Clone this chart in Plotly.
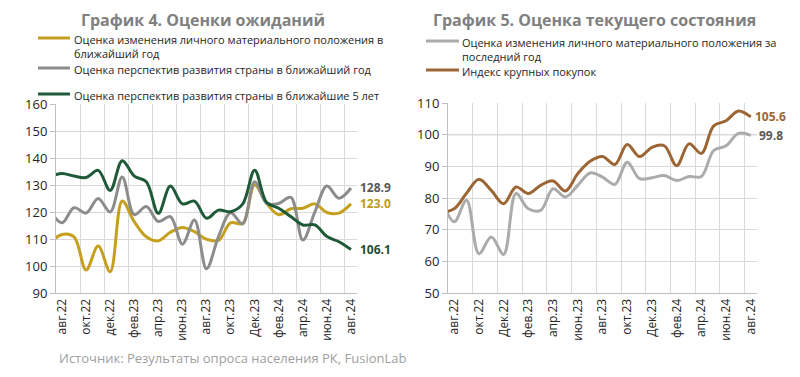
import plotly.graph_objects as go

# ---------------- data ----------------
# first entry (июл.22) is only partly visible: the lines enter the plot from the left edge
months = ["июл.22", "авг.22", "сен.22", "окт.22", "ноя.22", "дек.22", "янв.23", "фев.23",
          "мар.23", "апр.23", "май.23", "июн.23", "июл.23", "авг.23", "сен.23", "окт.23",
          "ноя.23", "дек.23", "янв.24", "фев.24", "мар.24", "апр.24", "май.24", "июн.24",
          "июл.24", "авг.24"]

tick_labels_left = ["авг.22", "окт.22", "дек.22", "фев.23", "апр.23", "июн.23", "авг.23",
                    "окт.23", "Дек.23", "фев.24", "апр.24", "июн.24", "авг.24"]
tick_labels_right = ["авг.22", "окт.22", "Дек.22", "фев.23", "апр.23", "июн.23", "авг.23",
                     "окт.23", "Дек.23", "фев.24", "апр.24", "июн.24", "авг.24"]

# График 4
personal_next_year = [108.5, 111.7, 110.8, 98.5, 107.4, 97.9, 124.1, 116.4, 110.8, 109.3,
                      112.5, 114.3, 112.7, 109.9, 109.5, 116.0, 115.8, 130.0, 123.2, 119.0,
                      121.2, 121.4, 123.0, 119.8, 119.6, 123.0]
country_next_year = [120.5, 116.0, 121.6, 119.6, 125.0, 120.0, 133.0, 119.0, 122.0, 116.5,
                     118.3, 108.1, 117.0, 99.0, 110.9, 119.7, 115.6, 131.2, 123.2, 123.2,
                     125.4, 109.6, 120.0, 129.6, 125.1, 128.9]
country_next_5_years = [133.0, 134.3, 133.3, 132.8, 135.4, 128.0, 139.0, 133.3, 131.2, 119.5,
                        129.6, 123.0, 124.0, 117.7, 120.7, 120.1, 122.9, 135.5, 123.5, 121.4,
                        118.3, 115.2, 115.2, 110.9, 109.0, 106.1]

# График 5
personal_past_year = [79.5, 72.5, 79.3, 62.4, 67.7, 62.2, 81.4, 76.6, 76.1, 82.9,
                      80.3, 84.0, 87.9, 86.6, 84.3, 91.3, 86.1, 86.4, 87.1, 85.5,
                      86.8, 86.8, 95.0, 96.5, 100.4, 99.8]
big_purchases_index = [75.5, 76.6, 81.5, 85.9, 82.4, 78.2, 83.5, 81.4, 84.0, 85.4,
                       82.2, 87.7, 91.6, 93.1, 90.6, 96.9, 93.1, 96.0, 96.5, 90.2,
                       97.1, 94.1, 102.8, 104.4, 107.5, 105.6]
base_level_right = 100

names_left = ["Оценка изменения личного материального положения в<br>ближайший год",
              "Оценка перспектив развития страны в ближайший год",
              "Оценка перспектив развития страны в ближайшие 5 лет"]
names_right = ["Оценка изменения личного материального положения за<br>последний год",
               "Индекс крупных покупок"]

# ---------------- styling ----------------
W, H = 800, 377
FONT = "Open Sans"
GOLD = "#C5A01E"
GRAY_L = "#8C8C8C"
GREEN = "#1F5A38"
GRAY_R = "#ABABAB"
BROWN = "#9C6634"
GRID = "#D9D9D9"
AXIS = "#BFBFBF"


def px(x):
    return x / W


def py(y):
    return 1 - y / H


x_idx = [i - 1 for i in range(len(months))]   # авг.22 -> 0
last = x_idx[-1]
tickvals = x_idx[1::2]
boundaries = [v - 0.5 for v in tickvals]

fig = go.Figure()

left_series = [(personal_next_year, GOLD), (country_next_year, GRAY_L), (country_next_5_years, GREEN)]
for (vals, col), name in zip(left_series, names_left):
    fig.add_trace(go.Scatter(x=x_idx, y=vals, mode="lines", name=name.replace("<br>", " "),
                             line=dict(color=col, width=3, shape="spline", smoothing=1),
                             xaxis="x", yaxis="y", hoverinfo="skip"))

right_series = [(personal_past_year, GRAY_R), (big_purchases_index, BROWN)]
for (vals, col), name in zip(right_series, names_right):
    fig.add_trace(go.Scatter(x=x_idx, y=vals, mode="lines", name=name.replace("<br>", " "),
                             line=dict(color=col, width=3, shape="spline", smoothing=1),
                             xaxis="x2", yaxis="y2", hoverinfo="skip"))

xcommon = dict(range=[-0.5, last + 0.5], tickmode="array", tickvals=tickvals, tickangle=-90,
               showgrid=False, showline=True, linecolor=AXIS, linewidth=1, ticks="",
               zeroline=False, automargin=False,
               tickfont=dict(size=12, color="#262626", family=FONT),
               minor=dict(tickmode="array", tickvals=boundaries, showgrid=True,
                          gridcolor=GRID, gridwidth=1, ticks=""))
ycommon = dict(dtick=10, showgrid=True, gridcolor=GRID, gridwidth=1, showline=True,
               linecolor=AXIS, ticks="outside", ticklen=5, tickcolor=AXIS, zeroline=False,
               automargin=False, tickfont=dict(size=13, color="#262626", family=FONT))

fig.update_layout(
    template="none",
    width=W, height=H, autosize=False, margin=dict(l=0, r=0, t=0, b=0, pad=0),
    paper_bgcolor="white", plot_bgcolor="white", showlegend=False,
    font=dict(family=FONT, color="#262626"),
    xaxis=dict(xcommon, domain=[px(56), px(357)], ticktext=tick_labels_left, anchor="y"),
    yaxis=dict(ycommon, domain=[py(293), py(104)], range=[90, 160], anchor="x"),
    xaxis2=dict(xcommon, domain=[px(448), px(757)], ticktext=tick_labels_right, anchor="y2"),
    yaxis2=dict(ycommon, domain=[py(293), py(103)], range=[50, 110], anchor="x2"),
)

ann = []
# titles
ann.append(dict(text="<b>График 4. Оценки ожиданий</b>", x=px(203), y=py(20), xref="paper",
                yref="paper", xanchor="center", yanchor="middle", showarrow=False,
                font=dict(size=16, color="#808080", family=FONT)))
ann.append(dict(text="<b>График 5. Оценка текущего состояния</b>", x=px(594), y=py(20),
                xref="paper", yref="paper", xanchor="center", yanchor="middle", showarrow=False,
                font=dict(size=16, color="#808080", family=FONT)))

# base-100 reference line on the right chart (darker than gridlines)
shapes = [dict(type="line", xref="x2 domain", yref="y2", x0=0, x1=1,
               y0=base_level_right, y1=base_level_right, layer="below",
               line=dict(color="#8C8C8C", width=1))]

# legends (line samples + labels)
legend_left = [(38, names_left[0], GOLD), (68, names_left[1], GRAY_L), (94, names_left[2], GREEN)]
for yy, txt, col in legend_left:
    shapes.append(dict(type="line", xref="paper", yref="paper", x0=px(38), x1=px(70),
                       y0=py(yy), y1=py(yy), line=dict(color=col, width=3)))
    ann.append(dict(text=txt, x=px(72), y=py(yy - 8), xref="paper", yref="paper",
                    xanchor="left", yanchor="top", align="left", showarrow=False,
                    font=dict(size=11, color="#262626", family=FONT)))
legend_right = [(41, names_right[0], GRAY_R), (70, names_right[1], BROWN)]
for yy, txt, col in legend_right:
    shapes.append(dict(type="line", xref="paper", yref="paper", x0=px(426), x1=px(459),
                       y0=py(yy), y1=py(yy), line=dict(color=col, width=3)))
    ann.append(dict(text=txt, x=px(460), y=py(yy - 8), xref="paper", yref="paper",
                    xanchor="left", yanchor="top", align="left", showarrow=False,
                    font=dict(size=11, color="#262626", family=FONT)))

# end-of-line value labels
end_labels = [("x", "y", country_next_year, "#595959", 8),
              ("x", "y", personal_next_year, "#C09A1A", 8),
              ("x", "y", country_next_5_years, "#1F4E33", 8),
              ("x2", "y2", big_purchases_index, "#9C6634", 3),
              ("x2", "y2", personal_past_year, "#595959", 7)]
for xr, yr, vals, col, shift in end_labels:
    ann.append(dict(text=f"<b>{vals[-1]:.1f}</b>", x=last, y=vals[-1], xref=xr, yref=yr,
                    xanchor="left", yanchor="middle", xshift=shift, showarrow=False,
                    borderpad=0, font=dict(size=12, color=col, family=FONT)))

# source
ann.append(dict(text="Источник: Результаты опроса населения РК, FusionLab", x=px(57), y=py(358),
                xref="paper", yref="paper", xanchor="left", yanchor="middle", showarrow=False,
                font=dict(size=13, color="#A0A0A0", family=FONT)))

fig.update_layout(annotations=ann, shapes=shapes)
fig.write_html("out.html", config={"displayModeBar": False},
               post_script="document.body.style.margin='0px';document.body.style.overflow='hidden';")
